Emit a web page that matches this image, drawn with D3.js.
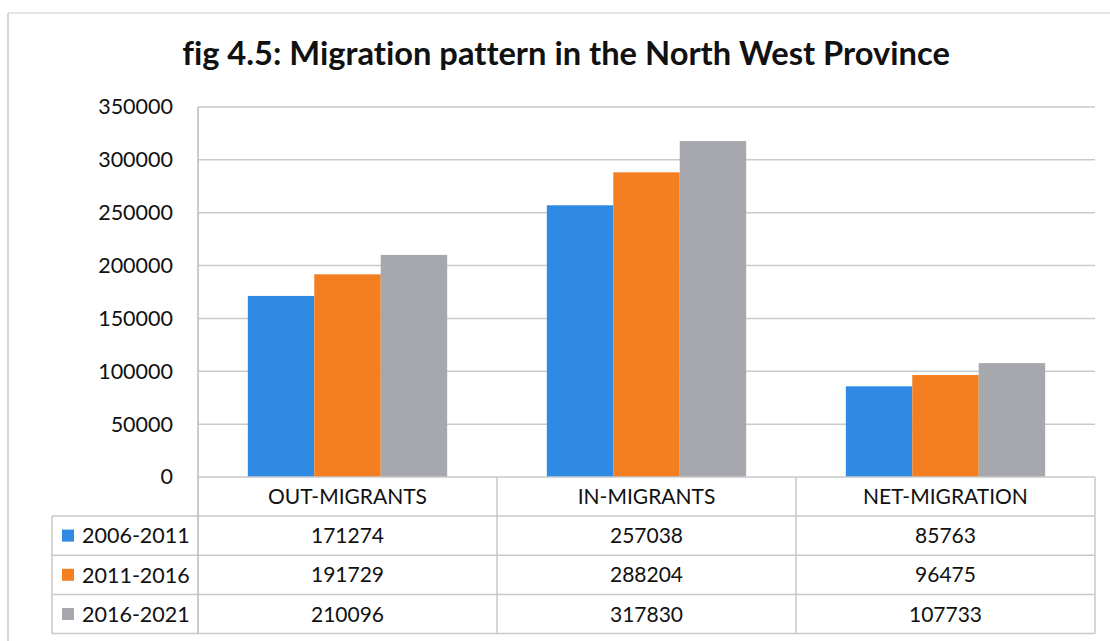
<!DOCTYPE html>
<html>
<head>
<meta charset="utf-8">
<script src="https://cdn.jsdelivr.net/npm/d3@7"></script>
<style>
  html, body { margin: 0; padding: 0; background: #ffffff; }
  svg { display: block; }
  text { font-family: Lato, "Open Sans", sans-serif; fill: #111; font-variant-ligatures: none; }
</style>
</head>
<body>
<svg id="chart" width="1110" height="641"></svg>
<script>
// Migration figures for the North West Province
const categories = ["OUT-MIGRANTS", "IN-MIGRANTS", "NET-MIGRATION"];
const periods = ["2006-2011", "2011-2016", "2016-2021"];
const values2006_2011 = [171274, 257038, 85763];
const values2011_2016 = [191729, 288204, 96475];
const values2016_2021 = [210096, 317830, 107733];
const yTicks = [0, 50000, 100000, 150000, 200000, 250000, 300000, 350000];
const colors = ["#2f8ae3", "#f47f20", "#a7a8ad"];
const titleText = "fig 4.5: Migration pattern in the North West Province";

const seriesValues = [values2006_2011, values2011_2016, values2016_2021];

const svg = d3.select("#chart");
const W = 1110, H = 641;

// plot and table geometry
const plot = { left: 198, right: 1095, top: 107, bottom: 477 };
const rowH = 39.2;
const headerBottom = 516;
const tableBottom = headerBottom + rowH * 3;
const legendLeft = 52;
const gridColor = "#c9c9cc";

// outer frame
svg.append("line").attr("x1", 8).attr("x2", W).attr("y1", 13).attr("y2", 13)
  .attr("stroke", "#dcdcdc").attr("stroke-width", 1.5);
svg.append("line").attr("x1", 8).attr("x2", 8).attr("y1", 13).attr("y2", H)
  .attr("stroke", "#c8c8d0").attr("stroke-width", 1.5);

// title, sized to its target width
const title = svg.append("text")
  .attr("x", 566).attr("y", 65)
  .attr("text-anchor", "middle")
  .attr("font-weight", "bold")
  .attr("font-size", 30)
  .text(titleText);
const tw = title.node().getComputedTextLength();
title.attr("font-size", 30 * 768 / tw);

const y = d3.scaleLinear().domain([0, 350000]).range([plot.bottom, plot.top]);
const x0 = d3.scaleBand().domain(categories).range([plot.left, plot.right]).padding(0);
const x1 = d3.scaleBand().domain(periods).range([0, x0.bandwidth()])
  .paddingInner(0).paddingOuter(0.75);

// gridlines
svg.append("g")
  .selectAll("line")
  .data(yTicks.filter(d => d > 0))
  .join("line")
  .attr("x1", plot.left).attr("x2", plot.right)
  .attr("y1", d => y(d)).attr("y2", d => y(d))
  .attr("stroke", gridColor).attr("stroke-width", 1.5);

// y axis labels
const yAxis = d3.axisLeft(y).tickValues(yTicks).tickSize(0).tickPadding(25)
  .tickFormat(d3.format("d"));
const gy = svg.append("g").attr("transform", `translate(${plot.left},0)`).call(yAxis);
gy.select(".domain").remove();
gy.selectAll("text")
  .attr("font-family", "Lato, sans-serif")
  .attr("font-size", 21.5)
  .attr("fill", "#111");

// bars
const groups = svg.append("g")
  .selectAll("g")
  .data(categories)
  .join("g")
  .attr("transform", d => `translate(${x0(d)},0)`);

groups.selectAll("rect")
  .data((c, ci) => periods.map((p, si) => ({ p, si, v: seriesValues[si][ci] })))
  .join("rect")
  .attr("x", d => x1(d.p))
  .attr("width", x1.bandwidth())
  .attr("y", d => y(d.v))
  .attr("height", d => y(0) - y(d.v))
  .attr("fill", d => colors[d.si]);

// data table lines
const tg = svg.append("g").attr("stroke", gridColor).attr("stroke-width", 1.5);
// x axis / header top
tg.append("line").attr("x1", plot.left).attr("x2", plot.right)
  .attr("y1", plot.bottom).attr("y2", plot.bottom);
// row separators
[0, 1, 2, 3].forEach(i => {
  tg.append("line").attr("x1", legendLeft).attr("x2", plot.right)
    .attr("y1", headerBottom + i * rowH).attr("y2", headerBottom + i * rowH);
});
// vertical lines
svg.append("line").attr("x1", plot.left).attr("x2", plot.left)
  .attr("y1", plot.top).attr("y2", tableBottom)
  .attr("stroke", "#b8b8c4").attr("stroke-width", 1.5);
categories.forEach((c, i) => {
  if (i > 0) {
    tg.append("line").attr("x1", x0(c)).attr("x2", x0(c))
      .attr("y1", plot.bottom).attr("y2", tableBottom);
  }
});
tg.append("line").attr("x1", plot.right).attr("x2", plot.right)
  .attr("y1", plot.bottom).attr("y2", tableBottom);
tg.append("line").attr("x1", legendLeft).attr("x2", legendLeft)
  .attr("y1", headerBottom).attr("y2", tableBottom);

// header labels
svg.append("g")
  .selectAll("text")
  .data(categories)
  .join("text")
  .attr("x", d => x0(d) + x0.bandwidth() / 2)
  .attr("y", (plot.bottom + headerBottom) / 2)
  .attr("dy", "0.36em")
  .attr("text-anchor", "middle")
  .attr("font-size", 21)
  .text(d => d);

// table rows: legend key, period label, values
periods.forEach((p, si) => {
  const cy = headerBottom + rowH * si + rowH / 2;
  svg.append("rect")
    .attr("x", 62).attr("y", cy - 6)
    .attr("width", 12).attr("height", 12)
    .attr("fill", colors[si]);
  svg.append("text")
    .attr("x", 82).attr("y", cy).attr("dy", "0.36em")
    .attr("font-size", 21.5)
    .text(p);
  svg.append("g")
    .selectAll("text")
    .data(seriesValues[si])
    .join("text")
    .attr("x", (d, ci) => x0(categories[ci]) + x0.bandwidth() / 2)
    .attr("y", cy).attr("dy", "0.36em")
    .attr("text-anchor", "middle")
    .attr("font-size", 21)
    .text(d => d);
});
</script>
</body>
</html>
